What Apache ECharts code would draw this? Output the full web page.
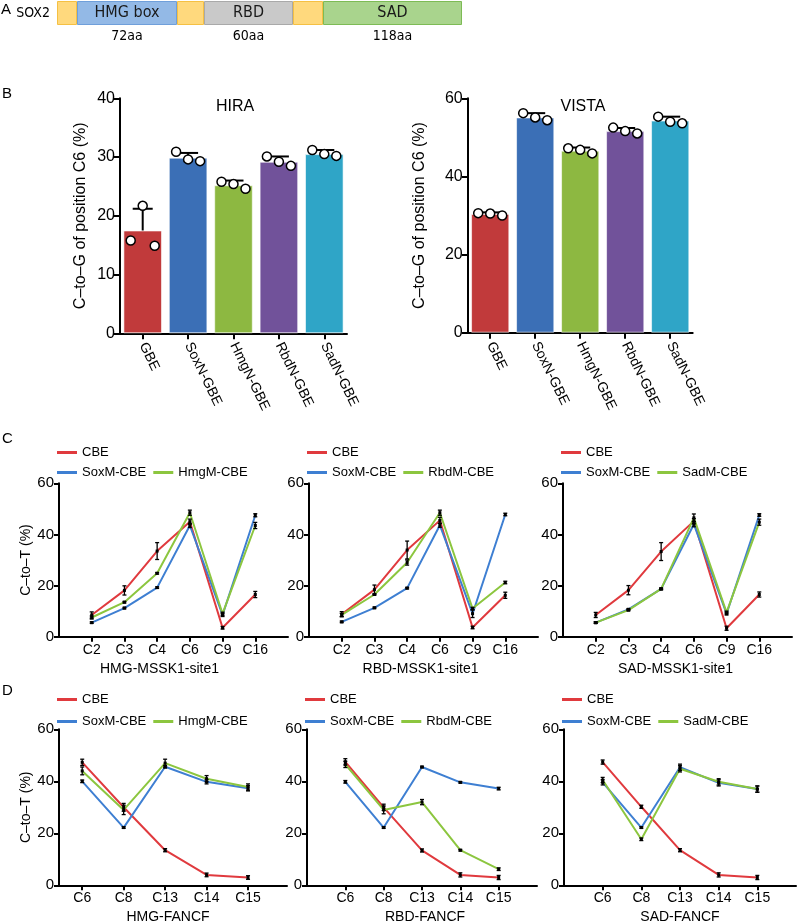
<!DOCTYPE html>
<html><head><meta charset="utf-8">
<script src="https://cdn.jsdelivr.net/npm/echarts@6/dist/echarts.min.js"></script>
<style>html,body{margin:0;padding:0;background:#fff}#c{width:798px;height:921px}</style>
</head><body><div id="c"></div>
<script>
// ---------- Panel A: SOX2 domain schematic ----------
const segNames   = ['', 'HMG box', '', 'RBD', '', 'SAD'];
const segLengths = [20, 100, 27, 89, 30, 139];
const segAA      = ['', '72aa', '', '60aa', '', '118aa'];

// ---------- Panel B ----------
const bCats = ['GBE', 'SoxN-GBE', 'HmgN-GBE', 'RbdN-GBE', 'SadN-GBE'];
const hiraMean   = [17.5, 29.9, 25.2, 29.2, 30.5];
const hiraErrTop = [21.2, 30.7, 26.0, 30.1, 31.2];
const hiraRepL   = [15.8, 30.9, 25.8, 30.1, 31.2];
const hiraRepM   = [21.7, 29.6, 25.4, 29.2, 30.5];
const hiraRepR   = [14.9, 29.3, 24.6, 28.5, 30.2];
const vistaMean   = [30.4, 55.1, 46.6, 51.6, 54.3];
const vistaErrTop = [30.8, 56.2, 47.4, 52.4, 55.3];
const vistaRepL   = [30.6, 56.2, 47.2, 52.5, 55.3];
const vistaRepM   = [30.5, 55.1, 46.8, 51.6, 54.0];
const vistaRepR   = [30.0, 54.4, 45.9, 51.0, 53.6];

// ---------- Panel C (MSSK1-site1) ----------
const cCats = ['C2', 'C3', 'C4', 'C6', 'C9', 'C16'];
const cHmgCBE   = [8.5, 18.1, 33.5, 45.0, 3.5, 16.5];
const cHmgCBEe  = [1.2, 1.8, 3.3, 1.0, 0.5, 1.2];
const cHmgSox   = [5.5, 11.2, 19.2, 43.5, 8.5, 47.5];
const cHmgSoxE  = [0.3, 0.3, 0.3, 0.8, 0.6, 0.6];
const cHmgMut   = [7.5, 13.5, 24.8, 48.5, 9.0, 43.5];
const cHmgMutE  = [0.6, 0.3, 0.3, 1.0, 0.6, 1.2];

const cRbdCBE   = [8.8, 18.4, 33.9, 45.5, 3.6, 16.2];
const cRbdCBEe  = [1.0, 1.8, 3.5, 1.2, 0.5, 1.2];
const cRbdSox   = [5.8, 11.3, 19.0, 43.6, 9.0, 47.8];
const cRbdSoxE  = [0.3, 0.3, 0.3, 0.8, 1.5, 0.5];
const cRbdMut   = [8.5, 16.5, 29.0, 48.5, 11.0, 21.2];
const cRbdMutE  = [0.6, 0.3, 1.0, 1.0, 0.5, 0.5];

const cSadCBE   = [8.5, 18.2, 33.3, 45.2, 3.3, 16.5];
const cSadCBEe  = [1.0, 1.8, 3.5, 1.0, 0.8, 1.0];
const cSadSox   = [5.5, 10.7, 18.7, 44.0, 9.0, 47.6];
const cSadSoxE  = [0.3, 0.3, 0.3, 1.0, 0.5, 0.5];
const cSadMut   = [5.5, 10.4, 18.7, 46.5, 9.5, 44.8];
const cSadMutE  = [0.3, 0.3, 0.3, 1.5, 0.5, 1.2];

// ---------- Panel D (FANCF) ----------
const dCats = ['C6', 'C8', 'C13', 'C14', 'C15'];
const dHmgCBE  = [47.3, 30.0, 13.5, 4.0, 3.0];
const dHmgCBEe = [1.2, 1.5, 0.6, 0.7, 0.7];
const dHmgSox  = [40.0, 22.2, 45.6, 39.8, 37.3];
const dHmgSoxE = [0.5, 0.3, 0.5, 0.8, 1.0];
const dHmgMut  = [44.0, 29.0, 47.0, 41.0, 37.8];
const dHmgMutE = [1.5, 1.8, 1.5, 1.2, 1.2];

const dRbdCBE  = [47.5, 30.0, 13.4, 4.0, 3.0];
const dRbdCBEe = [1.2, 1.2, 0.6, 0.8, 0.8];
const dRbdSox  = [39.8, 22.2, 45.5, 39.6, 37.2];
const dRbdSoxE = [0.5, 0.3, 0.3, 0.3, 0.5];
const dRbdMut  = [46.5, 29.0, 32.0, 13.5, 6.2];
const dRbdMutE = [1.2, 1.5, 1.0, 0.3, 0.5];

const dSadCBE  = [47.4, 30.2, 13.5, 4.0, 3.0];
const dSadCBEe = [0.8, 0.6, 0.6, 0.8, 0.8];
const dSadSox  = [39.6, 22.2, 45.4, 39.4, 37.0];
const dSadSoxE = [1.0, 0.3, 1.2, 1.2, 1.2];
const dSadMut  = [40.5, 17.7, 44.8, 39.8, 37.0];
const dSadMutE = [1.0, 0.5, 1.2, 1.2, 1.2];

// ---------- styles ----------
const FONT = '"Liberation Sans", Arial, sans-serif';
const NARROW = '"Liberation Sans Narrow", "DejaVu Sans Condensed", "Liberation Sans", sans-serif';
const segColors  = ['#FFD97D', '#93B9E6', '#FFD97D', '#C9C9C9', '#FFD97D', '#A9D48D'];
const segBorders = ['#F5C043', '#6F9FDA', '#F5C043', '#A9A9A9', '#F5C043', '#7DBB55'];
const bColors = ['#C13A3B', '#3B6FB6', '#8DB841', '#71529A', '#2FA5C7'];
const RED = '#E03A3E', BLUE = '#3E7FD2', GREEN = '#8CC63F';

const grid = [], xAxis = [], yAxis = [], series = [], legend = [], graphic = [];

function txt(text, x, y, size, align, font) {
  graphic.push({ type: 'text', x: x, y: y, silent: true,
    style: { text: text, fill: '#000', font: size + 'px ' + (font || FONT), textAlign: align || 'left', textVerticalAlign: 'top' } });
}

// Panel letters
txt('A', 1, 2, 15); txt('B', 2, 86, 15); txt('C', 2, 431, 15); txt('D', 2, 683, 15);

// ---------- Panel A ----------
const segTotal = segLengths.reduce((a, b) => a + b, 0);
grid.push({ left: 57, top: 1, width: 405, height: 24, outerBoundsMode: 'none', containLabel: false });
xAxis.push({ type: 'value', gridIndex: 0, min: 0, max: segTotal, show: false });
yAxis.push({ type: 'category', gridIndex: 0, data: ['SOX2'], axisLine: { show: false }, axisTick: { show: false },
  axisLabel: { fontFamily: NARROW, fontSize: 14, color: '#000', margin: 7 } });
segLengths.forEach((v, i) => {
  series.push({ type: 'bar', xAxisIndex: 0, yAxisIndex: 0, stack: 'dom', barWidth: 24, data: [v], silent: true,
    itemStyle: { color: segColors[i], borderColor: segBorders[i], borderWidth: 1 },
    label: { show: !!segNames[i], position: 'inside', formatter: segNames[i] || ' ', fontFamily: NARROW, fontSize: 16, color: '#1a1a1a' } });
});
segLengths.forEach((v, i) => {
  series.push({ type: 'bar', xAxisIndex: 0, yAxisIndex: 0, stack: 'aa', barWidth: 24, barGap: '-100%', data: [v], silent: true,
    itemStyle: { color: 'rgba(0,0,0,0)' },
    label: { show: !!segAA[i], position: 'bottom', distance: 4, formatter: segAA[i] || ' ', fontFamily: NARROW, fontSize: 14, color: '#000' } });
});

// ---------- Panel B ----------
function barPanel(gi, left, width, height, max, interval, mean, errTop, reps, titleText, titleX, nameGap) {
  grid.push({ left: left, top: 98.3, width: width, height: height, outerBoundsMode: 'none', containLabel: false });
  xAxis.push({ type: 'category', gridIndex: gi, data: bCats, boundaryGap: true,
    axisLine: { show: true, lineStyle: { color: '#000', width: 2 } },
    axisTick: { show: true, alignWithLabel: true, length: 6, lineStyle: { color: '#000', width: 2 } },
    axisLabel: { rotate: -64, fontFamily: FONT, fontSize: 14, color: '#000', margin: 10, interval: 0 } });
  yAxis.push({ type: 'value', gridIndex: gi, min: 0, max: max, interval: interval,
    axisLine: { show: true, lineStyle: { color: '#000', width: 2 } },
    axisTick: { show: true, length: 6, lineStyle: { color: '#000', width: 2 } },
    axisLabel: { fontFamily: FONT, fontSize: 16, color: '#000', margin: 5 },
    splitLine: { show: false },
    name: 'C\u2013to\u2013G of position C6 (%)', nameLocation: 'middle', nameGap: nameGap,
    nameTextStyle: { fontFamily: FONT, fontSize: 16, color: '#000' } });
  series.push({ type: 'bar', xAxisIndex: gi, yAxisIndex: gi, barCategoryGap: '15%', silent: true,
    data: mean.map((v, i) => ({ value: v, itemStyle: { color: bColors[i] } })),
    itemStyle: { borderColor: 'rgba(255,255,255,0.6)', borderWidth: 1 } });
  series.push({ type: 'custom', xAxisIndex: gi, yAxisIndex: gi, silent: true, z: 5,
    data: mean.map((v, i) => [i, v, errTop[i]]),
    encode: { x: 0, y: [1, 2] },
    renderItem: function (params, api) {
      const p0 = api.coord([api.value(0), api.value(1)]);
      const p1 = api.coord([api.value(0), api.value(2)]);
      const st = { stroke: '#000', lineWidth: 2 };
      return { type: 'group', children: [
        { type: 'line', shape: { x1: p0[0], y1: p0[1], x2: p1[0], y2: p1[1] }, style: st },
        { type: 'line', shape: { x1: p1[0] - 10, y1: p1[1], x2: p1[0] + 10, y2: p1[1] }, style: st } ] };
    } });
  const offs = [-12, 0, 12];
  reps.forEach((r, k) => {
    series.push({ type: 'scatter', xAxisIndex: gi, yAxisIndex: gi, silent: true, z: 6,
      data: r, symbol: 'circle', symbolSize: 9, symbolOffset: [offs[k], 0],
      itemStyle: { color: '#fff', borderColor: '#000', borderWidth: 1.5, opacity: 1 } });
  });
  txt(titleText, titleX, 99, 16, 'center');
}
barPanel(1, 120, 227, 235, 40, 10, hiraMean, hiraErrTop, [hiraRepL, hiraRepM, hiraRepR], 'HIRA', 235, 31);
barPanel(2, 467.7, 225, 234.4, 60, 20, vistaMean, vistaErrTop, [vistaRepL, vistaRepM, vistaRepR], 'VISTA', 583, 40);

// ---------- Panels C & D ----------
function linePanel(gi, left, top, width, height, cats, xmin, xmax, defs, name, nameShift, showYName, legTop1, legTop2) {
  grid.push({ left: left, top: top, width: width, height: height, outerBoundsMode: 'none', containLabel: false });
  const pos = cats.map((c, i) => i + 1);
  const pad = nameShift < 0 ? [0, -2 * nameShift, 0, 0] : [0, 0, 0, 2 * nameShift];
  xAxis.push({ type: 'value', gridIndex: gi, min: xmin, max: xmax,
    axisLine: { show: true, onZero: false, lineStyle: { color: '#000', width: 2 } },
    axisTick: { show: true, customValues: pos, length: 5, lineStyle: { color: '#000', width: 2 } },
    axisLabel: { customValues: pos, formatter: v => cats[Math.round(v) - 1] || '', fontFamily: FONT, fontSize: 14, color: '#000', margin: 6 },
    splitLine: { show: false },
    name: name, nameLocation: 'middle', nameGap: 25,
    nameTextStyle: { fontFamily: FONT, fontSize: 14, color: '#000', padding: pad } });
  yAxis.push({ type: 'value', gridIndex: gi, min: 0, max: 60, interval: 20,
    axisLine: { show: true, lineStyle: { color: '#000', width: 2 } },
    axisTick: { show: true, length: 5, lineStyle: { color: '#000', width: 2 } },
    axisLabel: { fontFamily: FONT, fontSize: 15, color: '#000', margin: 5 },
    splitLine: { show: false },
    name: showYName ? 'C\u2013to\u2013T (%)' : '', nameLocation: 'middle', nameGap: 26,
    nameTextStyle: { fontFamily: FONT, fontSize: 14, color: '#000' } });
  defs.forEach((d, k) => {
    series.push({ type: 'line', name: d.name, xAxisIndex: gi, yAxisIndex: gi, silent: true, z: 2 + k * 0.1,
      data: d.vals.map((v, i) => [i + 1, v]), symbol: 'none',
      lineStyle: { color: d.color, width: 2 }, itemStyle: { color: d.color } });
  });
  defs.forEach((d) => {
    series.push({ type: 'custom', xAxisIndex: gi, yAxisIndex: gi, silent: true, z: 4,
      data: d.vals.map((v, i) => [i + 1, v - d.errs[i], v + d.errs[i], v]),
      encode: { x: 0, y: [1, 2] },
      renderItem: function (params, api) {
        const lo = api.coord([api.value(0), api.value(1)]);
        const hi = api.coord([api.value(0), api.value(2)]);
        const m = api.coord([api.value(0), api.value(3)]);
        const st = { stroke: '#000', lineWidth: 1.3 };
        return { type: 'group', children: [
          { type: 'line', shape: { x1: lo[0], y1: lo[1], x2: hi[0], y2: hi[1] }, style: st },
          { type: 'line', shape: { x1: lo[0] - 2, y1: lo[1], x2: lo[0] + 2, y2: lo[1] }, style: st },
          { type: 'line', shape: { x1: hi[0] - 2, y1: hi[1], x2: hi[0] + 2, y2: hi[1] }, style: st },
          { type: 'rect', shape: { x: m[0] - 1.5, y: m[1] - 1.5, width: 3, height: 3 }, style: { fill: '#000' } } ] };
      } });
  });
  const ls = { icon: 'rect', itemWidth: 20, itemHeight: 3, itemGap: 7, selectedMode: false, padding: 0,
    textStyle: { fontFamily: FONT, fontSize: 13, color: '#000' } };
  legend.push(Object.assign({ left: left - 2, top: legTop1, data: [defs[0].name] }, ls));
  legend.push(Object.assign({ left: left - 2, top: legTop2, data: [defs[1].name, defs[2].name] }, ls));
}

function defs3(a, ae, b, be, c, ce, mutName) {
  return [ { name: 'CBE', color: RED, vals: a, errs: ae },
           { name: 'SoxM-CBE', color: BLUE, vals: b, errs: be },
           { name: mutName, color: GREEN, vals: c, errs: ce } ];
}

linePanel(3, 59, 483.3, 229, 153.4, cCats, 0, 7, defs3(cHmgCBE, cHmgCBEe, cHmgSox, cHmgSoxE, cHmgMut, cHmgMutE, 'HmgM-CBE'), 'HMG-MSSK1-site1', -14, true, 446, 466);
linePanel(4, 309, 483.3, 229, 153.4, cCats, 0, 7, defs3(cRbdCBE, cRbdCBEe, cRbdSox, cRbdSoxE, cRbdMut, cRbdMutE, 'RbdM-CBE'), 'RBD-MSSK1-site1', -3, false, 446, 466);
linePanel(5, 563, 483.3, 229, 153.4, cCats, 0, 7, defs3(cSadCBE, cSadCBEe, cSadSox, cSadSoxE, cSadMut, cSadMutE, 'SadM-CBE'), 'SAD-MSSK1-site1', -2, false, 446, 466);

linePanel(6, 59, 729.3, 228, 156, dCats, 0.44, 5.94, defs3(dHmgCBE, dHmgCBEe, dHmgSox, dHmgSoxE, dHmgMut, dHmgMutE, 'HmgM-CBE'), 'HMG-FANCF', -5, true, 693, 715);
linePanel(7, 307, 729.3, 230, 156, dCats, 0, 6, defs3(dRbdCBE, dRbdCBEe, dRbdSox, dRbdSoxE, dRbdMut, dRbdMutE, 'RbdM-CBE'), 'RBD-FANCF', 3, false, 693, 715);
linePanel(8, 564, 729.3, 232, 156, dCats, 0, 6, defs3(dSadCBE, dSadCBEe, dSadSox, dSadSoxE, dSadMut, dSadMutE, 'SadM-CBE'), 'SAD-FANCF', 0, false, 693, 715);

const chart = echarts.init(document.getElementById('c'), null, { renderer: 'canvas' });
chart.setOption({
  animation: false,
  backgroundColor: '#fff',
  textStyle: { fontFamily: FONT },
  grid: grid, xAxis: xAxis, yAxis: yAxis, series: series, legend: legend, graphic: graphic
});
</script></body></html>
